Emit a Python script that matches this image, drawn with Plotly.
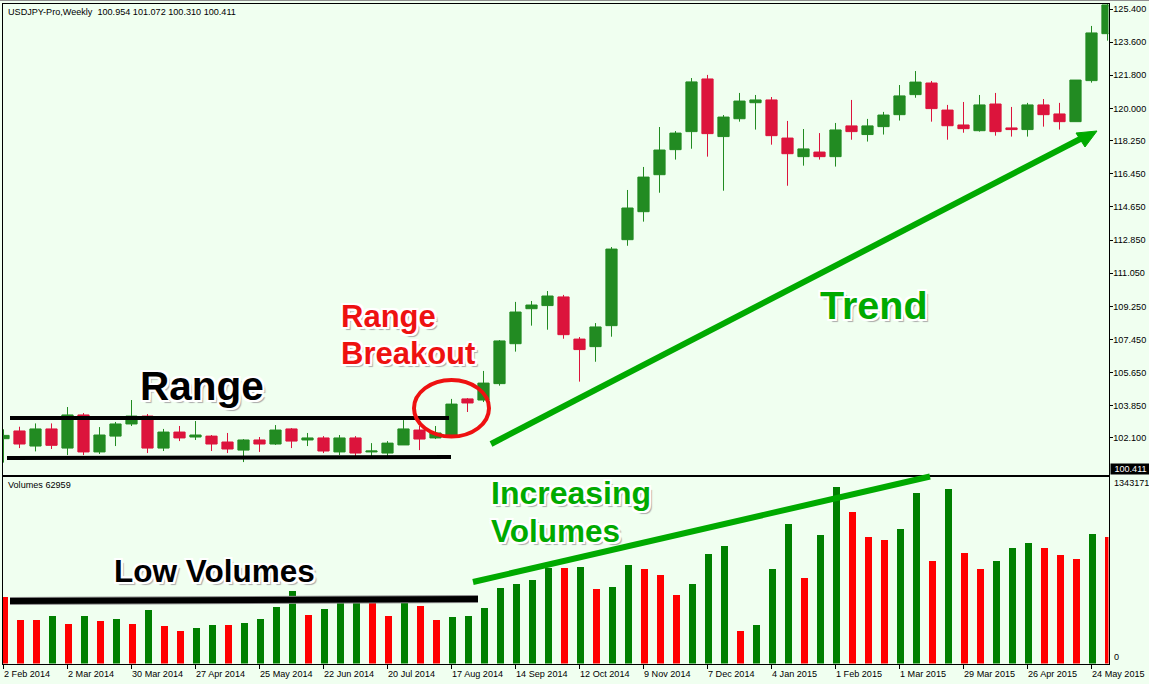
import pandas as pd
import plotly.graph_objects as go

W, H = 1149, 684

# ---------- data ----------
start_date = "2014-02-02"
opens = [102.06,102.48,101.66,102.59,101.55,103.35,101.34,102.20,102.86,103.29,
         101.55,102.42,102.15,102.20,101.88,101.44,101.99,101.77,102.59,101.99,
         102.10,101.34,102.10,101.34,101.28,101.72,102.53,102.10,102.26,104.22,
         104.16,105.05,107.22,109.12,109.29,109.76,107.47,107.06,108.20,112.87,
         114.39,116.40,117.76,118.74,121.60,118.47,119.44,120.31,120.46,118.39,
         117.38,117.63,117.38,119.05,118.58,119.01,119.66,120.75,121.38,119.91,
         119.10,118.79,120.24,118.94,118.85,120.19,119.70,119.28,121.51,124.06]
highs = [102.57,102.71,102.89,102.89,103.78,103.45,102.69,102.97,104.16,103.40,
         102.59,102.75,103.02,102.26,102.37,102.04,102.15,102.80,102.64,102.37,
         102.20,102.26,102.20,101.82,101.93,103.07,102.75,102.75,104.22,104.27,
         105.74,107.42,109.49,109.54,110.08,109.87,107.58,108.34,112.47,115.57,
         116.82,118.99,118.77,121.65,121.82,119.64,120.84,120.73,120.62,119.32,
         118.88,118.66,119.21,120.46,119.43,119.81,121.27,122.03,121.49,120.19,
         120.35,120.73,120.84,120.08,120.30,120.51,120.30,121.54,124.48,125.85]
lows = [100.76,101.55,101.37,101.50,101.17,101.17,101.23,101.66,102.75,101.28,
        101.39,101.93,101.99,101.39,101.28,100.79,101.34,101.72,101.55,101.66,
        101.28,101.17,101.12,101.12,101.12,101.72,101.44,102.04,102.20,103.51,
        104.05,104.94,106.79,108.20,107.98,107.49,105.16,106.24,107.60,112.54,
        113.85,115.42,117.22,117.81,117.38,115.53,119.28,118.85,118.03,115.80,
        116.89,117.22,116.84,118.30,118.20,118.58,119.34,120.58,119.28,118.30,
        118.68,118.74,118.52,118.47,118.47,119.01,118.85,119.28,121.40,123.68]
closes = [102.24,101.77,102.59,101.70,103.35,101.34,102.26,102.86,103.29,101.55,
          102.42,102.10,102.26,101.77,101.50,101.99,101.77,102.53,101.93,102.10,
          101.39,102.10,101.28,101.39,101.82,102.59,102.04,102.37,103.94,104.00,
          105.08,107.37,108.94,109.32,109.81,107.71,106.90,108.13,112.36,114.59,
          116.27,117.74,118.66,121.44,118.63,119.53,120.40,120.46,118.52,117.54,
          117.80,117.38,118.83,118.74,119.05,119.64,120.68,121.43,119.99,119.06,
          118.90,120.19,118.74,118.85,120.19,119.66,119.28,121.54,124.10,125.62]
volumes = [510000,336000,336000,366000,305000,366000,328000,343000,305000,411000,
           290000,252000,275000,298000,298000,313000,343000,434000,555000,373000,
           419000,477000,477000,477000,366000,477000,442000,336000,358000,366000,
           426000,578000,608000,639000,727000,729000,737000,570000,586000,752000,
           722000,676000,525000,608000,836000,896000,252000,298000,722000,1063000,
           654000,979000,1343171,1154000,964000,942000,1025000,1298000,783000,1328000,
           843000,722000,783000,881000,919000,881000,828000,798000,987000,964000]
volume_up = [0,0,0,1,0,1,0,1,0,1,0,0,1,1,0,1,1,1,1,0,
             1,1,1,0,0,1,0,0,1,1,1,1,1,1,1,0,1,0,1,1,
             0,0,0,1,1,1,0,1,1,1,0,1,1,0,0,0,1,1,0,1,
             0,0,1,1,1,0,0,0,1,0]
price_ticks = [125.400,123.600,121.800,120.000,118.250,116.450,114.650,
               112.850,111.050,109.250,107.450,105.650,103.850,102.100]
date_tick_labels = ["2 Feb 2014","2 Mar 2014","30 Mar 2014","27 Apr 2014","25 May 2014",
                    "22 Jun 2014","20 Jul 2014","17 Aug 2014","14 Sep 2014","12 Oct 2014",
                    "9 Nov 2014","7 Dec 2014","4 Jan 2015","1 Feb 2015","1 Mar 2015",
                    "29 Mar 2015","26 Apr 2015","24 May 2015"]
last_price = 100.411
max_volume = 1343171
header_text = "USDJPY-Pro,Weekly\u00a0\u00a0100.954 101.072 100.310 100.411"
volume_text = "Volumes 62959"

# ---------- layout helpers (pixels of the page to paper fractions) ----------
def X(px): return px / W
def Y(px): return 1 - px / H

BG = "#F0FFF0"
CANDLE_UP, CANDLE_DOWN = "#228B22", "#DC143C"
VOL_UP, VOL_DOWN = "#008000", "#FF0000"
DRAW_GREEN = "#00AA00"
FONT = "Liberation Sans"
TICK_SIZE = 9.1

dates = pd.date_range(start_date, periods=len(closes), freq="7D")
week_px = 16.0
day_ms = 86400000
left_px, right_px = 2.5, 1108.5
first_px = 3.5
x_range = [dates[0] + pd.Timedelta(days=7 * (left_px - first_px) / week_px),
           dates[0] + pd.Timedelta(days=7 * (right_px - first_px) / week_px)]
tick_dates = [dates[i] for i in range(0, len(dates), 4)]

px_per_unit = 18.41
main_top, main_bottom = 3.5, 474.5
vol_top, vol_bottom = 476.5, 663.5
y_max = 125.4 + (9 - main_top) / px_per_unit
y_min = 125.4 - (main_bottom - 9) / px_per_unit
vol_px = 177.3
vol_max = max_volume * (vol_bottom - vol_top) / vol_px

fig = go.Figure()
fig.add_trace(go.Candlestick(
    x=dates, open=opens, high=highs, low=lows, close=closes,
    xaxis="x", yaxis="y", whiskerwidth=0,
    increasing=dict(line=dict(color=CANDLE_UP, width=1), fillcolor=CANDLE_UP),
    decreasing=dict(line=dict(color=CANDLE_DOWN, width=1), fillcolor=CANDLE_DOWN),
    showlegend=False))
fig.add_trace(go.Bar(
    x=dates, y=volumes, xaxis="x2", yaxis="y2",
    width=7 * day_ms * 7 / week_px,
    marker=dict(color=[VOL_UP if u else VOL_DOWN for u in volume_up], line_width=0),
    showlegend=False))

ann = []
def note(text, xpx, ypx, size=TICK_SIZE, color="black", bold=False, shadow=None, anchor="left"):
    f = dict(family=FONT, size=size, color=color)
    if bold: f["weight"] = "bold"
    if shadow: f["shadow"] = shadow
    ann.append(dict(text=text, x=X(xpx), y=Y(ypx), xref="paper", yref="paper",
                    xanchor=anchor, yanchor="middle", showarrow=False, font=f, borderpad=0))

HALO = ("-2px -2px 0 #fff,2px -2px 0 #fff,-2px 2px 0 #fff,2px 2px 0 #fff,"
        "-2px 0 0 #fff,2px 0 0 #fff,0 -2px 0 #fff,0 2px 0 #fff,3px 3px 1px #aaa")
note("Range", 139, 386, 40.5, "black", True, HALO)
note("Range", 340, 316, 31, "#EE1111", True, HALO)
note("Breakout", 340, 353, 31, "#EE1111", True, HALO)
note("Trend", 819, 305, 39.5, DRAW_GREEN, True, HALO)
note("Increasing", 490, 493, 32, DRAW_GREEN, True, HALO)
note("Volumes", 490, 531, 31.5, DRAW_GREEN, True, HALO)
note("Low Volumes", 113, 571, 31.5, "black", True, HALO)
note(header_text, 7, 11.5)
note(volume_text, 7, 485)

# right-hand labels tied to the value scales
ann.append(dict(text=f"{last_price:.3f}", x=X(1110), y=last_price, xref="paper", yref="y",
                xanchor="left", yanchor="middle", showarrow=False, bgcolor="black",
                width=39, height=9.5, align="center", borderpad=0,
                font=dict(family=FONT, size=TICK_SIZE, color="white")))
for val, shift in [(max_volume, 3), (0, 6.5)]:
    ann.append(dict(text=str(val), x=X(1112.5), y=val, xref="paper", yref="y2",
                    xanchor="left", yanchor="middle", yshift=shift, showarrow=False, borderpad=0,
                    font=dict(family=FONT, size=TICK_SIZE, color="black")))
for d, label in zip(tick_dates, date_tick_labels):
    ann.append(dict(text=label, x=d, y=Y(673.5), xref="x2", yref="paper",
                    xanchor="left", yanchor="middle", xshift=-0.5, showarrow=False, borderpad=0,
                    font=dict(family=FONT, size=TICK_SIZE, color="black")))

def seg(x0, y0, x1, y1, color, width):
    return dict(type="line", xref="paper", yref="paper", x0=X(x0), y0=Y(y0), x1=X(x1), y1=Y(y1),
                line=dict(color=color, width=width), layer="above")

shapes = [
    seg(0, 0.5, 1149, 0.5, "#909090", 1),
    seg(10, 418, 449, 418, "black", 4),
    seg(7, 458, 451, 457, "black", 4),
    seg(10, 601, 478, 599, "#8a8a8a", 8),
    seg(10, 601, 478, 599, "black", 6),
    seg(491, 444, 1086, 136, DRAW_GREEN, 6),
    seg(473, 582, 930, 476.5, DRAW_GREEN, 6),
    dict(type="circle", xref="paper", yref="paper", x0=X(414), x1=X(489), y0=Y(380), y1=Y(436.5),
         line=dict(color="#EE1111", width=4), layer="above"),
    dict(type="path", xref="paper", yref="paper", layer="above",
         path=f"M {X(1097)} {Y(131)} L {X(1076)} {Y(133)} L {X(1085)} {Y(147)} Z",
         fillcolor=DRAW_GREEN, line=dict(color=DRAW_GREEN, width=1)),
]

axis_common = dict(showline=True, linecolor="black", linewidth=1, mirror=True, showgrid=False, zeroline=False)
fig.update_layout(
    width=W, height=H, margin=dict(l=0, r=0, t=0, b=0),
    paper_bgcolor=BG, plot_bgcolor=BG, showlegend=False,
    boxgap=0.3, boxgroupgap=0, bargap=0, dragmode=False,
    xaxis=dict(domain=[X(left_px), X(right_px)], range=x_range, type="date", anchor="y",
               showticklabels=False, ticks="", rangeslider=dict(visible=False), **axis_common),
    yaxis=dict(domain=[Y(main_bottom), Y(main_top)], range=[y_min, y_max], side="right", anchor="x",
               tickvals=price_ticks, ticktext=[f"{p:.3f}" for p in price_ticks],
               ticks="outside", ticklen=3, tickcolor="black", tickwidth=1, ticklabelstandoff=-1,
               tickfont=dict(family=FONT, size=TICK_SIZE, color="black"), **axis_common),
    xaxis2=dict(domain=[X(left_px), X(right_px)], range=x_range, type="date", anchor="y2",
                tickvals=tick_dates, showticklabels=False, ticks="outside", ticklen=4,
                tickcolor="black", tickwidth=1, **axis_common),
    yaxis2=dict(domain=[Y(vol_bottom), Y(vol_top)], range=[0, vol_max], side="right", anchor="x2",
                showticklabels=False, ticks="", **axis_common),
    annotations=ann, shapes=shapes,
)

fig.write_html("out.html", config=dict(displayModeBar=False),
               post_script="document.body.style.margin='0';document.body.style.background='#F0FFF0';")
